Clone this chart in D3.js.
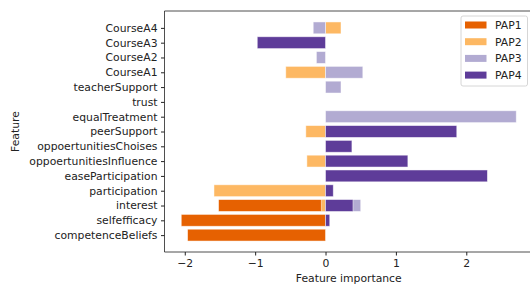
<!DOCTYPE html>
<html>
<head>
    <script src="https://d3js.org/d3.v7.min.js"></script>
    <style>
        body { margin: 0; background: #fff; }
        text { font-family: "DejaVu Sans", sans-serif; fill: #222; }
    </style>
</head>
<body>
    <svg width="530" height="287"></svg>
    <script>
        // data, top to bottom as shown in the chart
        var features = ["CourseA4", "CourseA3", "CourseA2", "CourseA1", "teacherSupport", "trust",
                        "equalTreatment", "peerSupport", "oppoertunitiesChoises", "oppoertunitiesInfluence",
                        "easeParticipation", "participation", "interest", "selfefficacy", "competenceBeliefs"];
        var seriesNames = ["PAP1", "PAP2", "PAP3", "PAP4"];
        var pap1 = [0, 0, 0, 0, 0, 0, 0, 0, 0, 0, 0, 0, -1.52, -2.05, -1.96];
        var pap2 = [0.22, 0, 0, -0.565, 0, 0, 0, -0.28, 0, -0.265, 0, -1.585, -0.06, 0, 0];
        var pap3 = [-0.175, 0, -0.13, 0.53, 0.22, 0, 2.71, 0, 0, 0, 0, 0, 0.50, 0, 0];
        var pap4 = [0, -0.97, 0, 0, 0, 0, 0, 1.865, 0.375, 1.17, 2.30, 0.11, 0.39, 0.06, 0];
        var colors = ["#e66101", "#fdb863", "#b2abd2", "#5e3c99"];

        var svg = d3.select("svg"),
            pLeft = 164.5, pRight = 533, pTop = 11, pBottom = 252,
            fs = "10.8px";

        var allSeries = [pap1, pap2, pap3, pap4];
        var allVals = d3.merge(allSeries).concat([0]);
        var lo = d3.min(allVals), hi = d3.max(allVals), pad = (hi - lo) * 0.05;

        var x = d3.scaleLinear().domain([lo - pad, hi + pad]).range([pLeft, pRight]);
        // matplotlib-style y: positions 0..14 bottom to top, bar height 0.8
        var n = features.length;
        var y = d3.scaleLinear().domain([-0.4 - 0.74, n - 1 + 0.4 + 0.74]).range([pBottom, pTop]);
        var pos = function(i) { return n - 1 - i; };

        // bars, drawn series by series so later ones sit on top
        allSeries.forEach(function(vals, s) {
            svg.append("g").selectAll("rect")
               .data(vals)
               .enter().append("rect")
               .attr("x", function(d) { return x(Math.min(0, d)); })
               .attr("width", function(d) { return Math.abs(x(d) - x(0)); })
               .attr("y", function(d, i) { return y(pos(i) + 0.4); })
               .attr("height", function() { return y(-0.4) - y(0.4); })
               .attr("fill", colors[s])
               .attr("stroke", function(d) { return d === 0 ? "none" : "rgba(255,255,255,0.6)"; })
               .attr("stroke-width", 0.8);
        });

        // x axis
        var xAxis = svg.append("g")
            .attr("transform", "translate(0," + pBottom + ")")
            .call(d3.axisBottom(x).ticks(5).tickSize(3.5).tickPadding(3.5)
                  .tickFormat(function(d) { return d < 0 ? "\u2212" + Math.abs(d) : d; }));
        xAxis.select(".domain").remove();
        xAxis.selectAll("line").attr("stroke", "#222");
        xAxis.selectAll("text").style("font-size", fs).style("fill", "#222")
             .style("font-family", "DejaVu Sans");

        // y axis
        var yAxis = svg.append("g")
            .attr("transform", "translate(" + pLeft + ",0)")
            .call(d3.axisLeft(y).tickValues(d3.range(n)).tickSize(3.5).tickPadding(3.5)
                  .tickFormat(function(d) { return features[n - 1 - d]; }));
        yAxis.select(".domain").remove();
        yAxis.selectAll("line").attr("stroke", "#222");
        yAxis.selectAll("text").style("font-size", fs).style("fill", "#222")
             .style("font-family", "DejaVu Sans");

        // spines
        svg.append("line").attr("x1", pLeft).attr("x2", pLeft).attr("y1", pTop).attr("y2", pBottom)
           .attr("stroke", "#222").attr("stroke-width", 0.8);
        svg.append("line").attr("x1", pLeft).attr("x2", pRight).attr("y1", pBottom).attr("y2", pBottom)
           .attr("stroke", "#222").attr("stroke-width", 0.8);
        svg.append("line").attr("x1", pLeft).attr("x2", pRight).attr("y1", pTop).attr("y2", pTop)
           .attr("stroke", "#222").attr("stroke-width", 0.8);

        // axis labels
        svg.append("text").attr("x", (pLeft + pRight) / 2).attr("y", 282)
           .attr("text-anchor", "middle").style("font-size", fs).text("Feature importance");
        svg.append("text")
           .attr("transform", "translate(19," + (pTop + pBottom) / 2 + ") rotate(-90)")
           .attr("text-anchor", "middle").style("font-size", fs).text("Feature");

        // legend
        var lg = svg.append("g").attr("transform", "translate(461,16)");
        lg.append("rect").attr("width", 66.5).attr("height", 70).attr("rx", 2)
          .attr("fill", "#fff").attr("fill-opacity", 0.8).attr("stroke", "#ccc").attr("stroke-width", 0.8);
        seriesNames.forEach(function(name, i) {
            var row = lg.append("g").attr("transform", "translate(0," + (9 + i * 16.7) + ")");
            row.append("rect").attr("x", 4).attr("y", -3.5).attr("width", 21.5).attr("height", 7)
               .attr("fill", colors[i]);
            row.append("text").attr("x", 34).attr("y", 3.8).style("font-size", fs).text(name);
        });
    </script>
</body>
</html>
